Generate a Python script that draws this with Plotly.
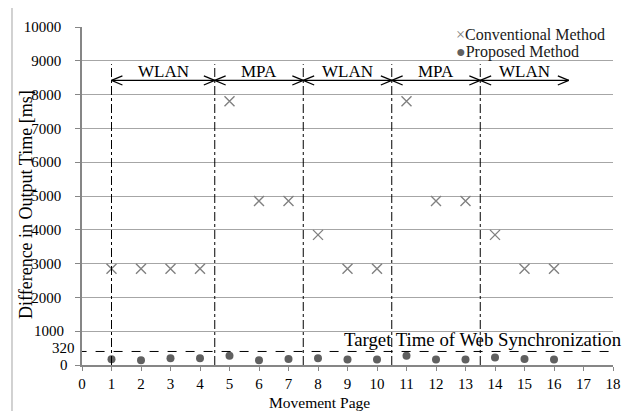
import plotly.graph_objects as go

# ---------------- data ----------------
pages = list(range(1, 17))
conventional_ms = [2850, 2850, 2850, 2850, 7800, 4850, 4850, 3850,
                   2850, 2850, 7800, 4850, 4850, 3850, 2850, 2850]
proposed_ms = [170, 140, 200, 200, 270, 140, 180, 200,
               160, 160, 270, 160, 160, 220, 180, 160]
x_ticks = list(range(0, 19))
y_ticks = list(range(0, 10001, 1000))
section_bounds = [1, 4.5, 7.5, 10.5, 13.5, 16.5]
section_labels = ["WLAN", "MPA", "WLAN", "MPA", "WLAN"]
target_label = "320"
target_text = "Target Time of Web Synchronization"

# ---------------- style ----------------
FONT = "Liberation Serif, Times New Roman, serif"
W, H = 642, 411
OFF = 8  # default page body margin
SL, SR, ST, SB = 82, 613, 27, 365   # plot area in screen pixels
ML, MT = SL - OFF, ST - OFF
MR, MB = W - (SR - OFF), H - (SB - OFF)
PW, PH = SR - SL, SB - ST
def px_x(px):
    return (px - SL) / PW
def px_y(py):
    return (SB - py) / PH

TARGET_LINE_Y = 400   # drawn position of the target line
ARROW_Y = 8420
VLINE_TOP = 8900
LABEL_Y = 8680

fig = go.Figure()
fig.add_trace(go.Scatter(
    x=pages, y=conventional_ms, mode="markers", name="Conventional Method",
    marker=dict(symbol="x-thin-open", size=10, color="#808080",
                line=dict(width=1.4, color="#808080")),
    showlegend=False, cliponaxis=False))
fig.add_trace(go.Scatter(
    x=pages, y=proposed_ms, mode="markers", name="Proposed Method",
    marker=dict(symbol="circle", size=8, color="#606060"),
    showlegend=False, cliponaxis=False))

shapes = []
for b in section_bounds[:-1]:
    shapes.append(dict(type="line", xref="x", yref="y", x0=b, x1=b, y0=0, y1=VLINE_TOP,
                       line=dict(color="black", width=1, dash="dashdot")))
dx, dy = 0.37, 135
for i in range(len(section_labels)):
    a, b = section_bounds[i], section_bounds[i + 1]
    shapes.append(dict(type="line", xref="x", yref="y", x0=a, x1=b, y0=ARROW_Y, y1=ARROW_Y,
                       line=dict(color="black", width=1.2)))
    for s in (1, -1):
        shapes.append(dict(type="line", xref="x", yref="y", x0=a, x1=a + dx,
                           y0=ARROW_Y, y1=ARROW_Y + s * dy, line=dict(color="black", width=1.2)))
        shapes.append(dict(type="line", xref="x", yref="y", x0=b, x1=b - dx,
                           y0=ARROW_Y, y1=ARROW_Y + s * dy, line=dict(color="black", width=1.2)))
shapes.append(dict(type="line", xref="x", yref="y", x0=-0.15, x1=18.05,
                   y0=TARGET_LINE_Y, y1=TARGET_LINE_Y,
                   line=dict(color="black", width=1, dash="dash")))
shapes.append(dict(type="rect", xref="paper", yref="paper",
                   x0=px_x(12), x1=px_x(638), y0=px_y(415), y1=px_y(7),
                   line=dict(color="#b4b4b4", width=1.2), fillcolor="rgba(0,0,0,0)", layer="below"))

annotations = []
for i, lab in enumerate(section_labels):
    a, b = section_bounds[i], section_bounds[i + 1]
    annotations.append(dict(x=(a + b) / 2, y=LABEL_Y, xref="x", yref="y", text=lab,
                            xanchor="center", yanchor="middle",
                            showarrow=False, font=dict(family=FONT, size=17, color="black")))
annotations.append(dict(x=px_x(623), y=TARGET_LINE_Y, xref="paper", yref="y", text=target_text,
                        xanchor="right", yanchor="bottom", showarrow=False, borderpad=0,
                        font=dict(family=FONT, size=18.8, color="black")))
# hand-placed y labels near the bottom (as in the original)
annotations.append(dict(x=px_x(77), y=TARGET_LINE_Y, xref="paper", yref="y", text=target_label,
                        xanchor="right", yanchor="middle", yshift=3, showarrow=False,
                        font=dict(family=FONT, size=15, color="black")))
annotations.append(dict(x=px_x(66), y=1000, xref="paper", yref="y", text=str(y_ticks[1]),
                        xanchor="right", yanchor="middle", showarrow=False,
                        font=dict(family=FONT, size=15, color="black")))
annotations.append(dict(x=px_x(70), y=0, xref="paper", yref="y", text=str(y_ticks[0]),
                        xanchor="right", yanchor="middle", showarrow=False,
                        font=dict(family=FONT, size=15, color="black")))
annotations.append(dict(x=px_x(454), y=px_y(34), xref="paper", yref="paper",
                        text='<span style="color:#808080">×</span>Conventional Method',
                        xanchor="left", yanchor="middle", showarrow=False,
                        font=dict(family=FONT, size=16, color="#1a1a1a")))
annotations.append(dict(x=px_x(454), y=px_y(52), xref="paper", yref="paper",
                        text='<span style="color:#606060">●</span>Proposed Method',
                        xanchor="left", yanchor="middle", showarrow=False,
                        font=dict(family=FONT, size=16, color="#1a1a1a")))
annotations.append(dict(x=px_x(26), y=px_y(205), xref="paper", yref="paper",
                        text="Difference in Output Time [ms]", textangle=-90,
                        xanchor="center", yanchor="middle",
                        showarrow=False, font=dict(family=FONT, size=18, color="black")))
annotations.append(dict(x=px_x(319), y=px_y(402), xref="paper", yref="paper",
                        text="Movement Page", xanchor="center", yanchor="middle",
                        showarrow=False, font=dict(family=FONT, size=15.5, color="black")))

y_ticktext = ["" if v in (0, 1000) else str(v) for v in y_ticks]

fig.update_layout(
    width=W, height=H, margin=dict(l=ML, r=MR, t=MT, b=MB),
    paper_bgcolor="white", plot_bgcolor="white",
    font=dict(family=FONT, size=15, color="black"),
    shapes=shapes, annotations=annotations, showlegend=False,
    xaxis=dict(range=[0, 18], tickvals=x_ticks, ticktext=[str(v) for v in x_ticks],
               showgrid=False, zeroline=False, showline=True, linecolor="#868686", linewidth=2,
               ticks="outside", ticklen=4, tickcolor="#868686", tickwidth=1,
               tickfont=dict(family=FONT, size=15, color="black")),
    yaxis=dict(range=[0, 10000], tickvals=y_ticks, ticktext=y_ticktext,
               showgrid=True, gridcolor="#a6a6a6", gridwidth=1, zeroline=False,
               showline=True, linecolor="#868686", linewidth=1.5,
               ticks="outside", ticklen=5, tickcolor="#868686", tickwidth=1,
               ticklabelstandoff=11,
               tickfont=dict(family=FONT, size=15, color="black")),
)

fig.write_html("out.html")
